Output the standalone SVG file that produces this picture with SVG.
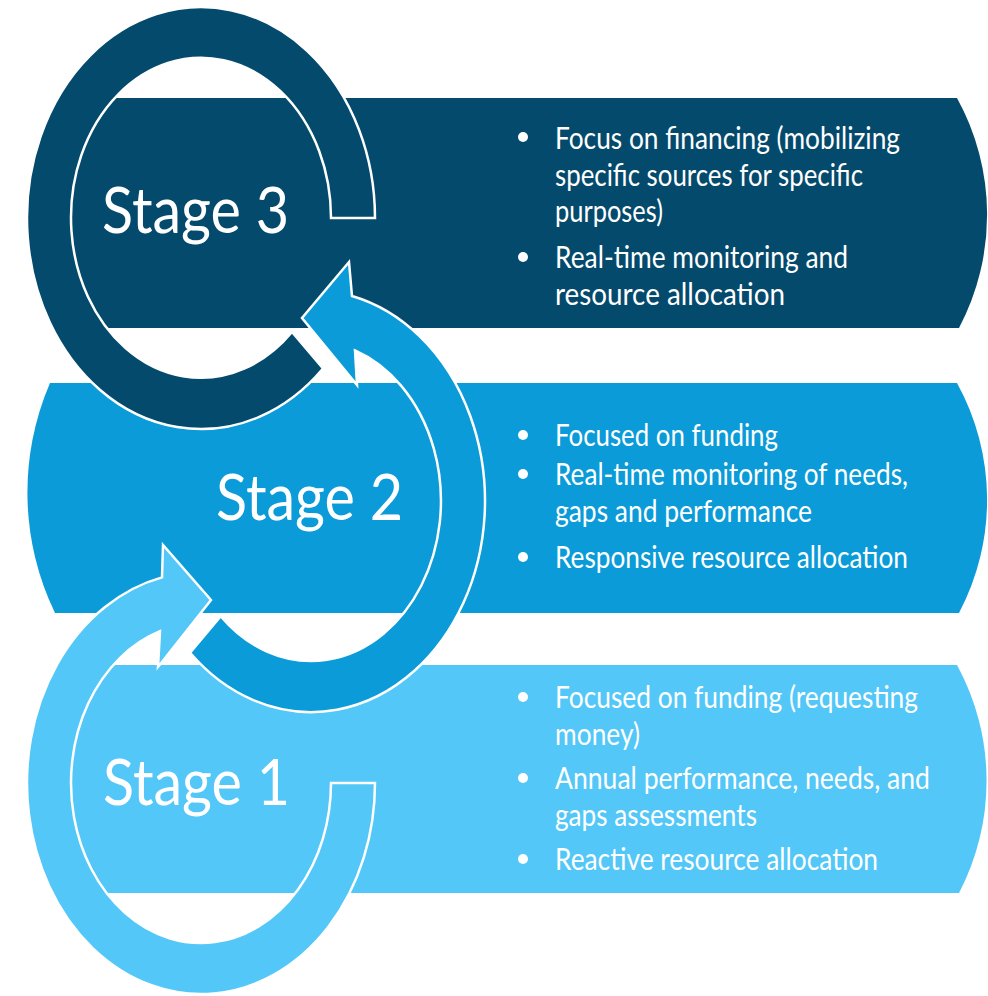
<svg xmlns="http://www.w3.org/2000/svg" width="988" height="996" viewBox="0 0 988 996">
<style>
.bg{fill:#ffffff}
.dark{fill:#044a6c}
.mid{fill:#0a9bd8}
.light{fill:#53c7f8}
.ring{stroke:#ffffff;stroke-width:2.5;stroke-linejoin:miter}
.stage{font-family:Lato,"Open Sans","Liberation Sans",sans-serif;font-size:63px;fill:#ffffff}
.txt{font-family:Lato,"Open Sans","Liberation Sans",sans-serif;font-size:30px;fill:#ffffff}
.dot{fill:#ffffff}
</style>
<rect class="bg" x="0" y="0" width="988" height="996"/>

<g id="stage3">
<path class="dark" d="M115,98 L957,98 A242,242 0 0 1 959,328 L107,328 Q0,213 115,98 Z"/>
<text class="stage" x="102" y="233" textLength="187" lengthAdjust="spacingAndGlyphs">Stage 3</text>
<circle class="dot" cx="523" cy="137" r="5"/>
<circle class="dot" cx="523" cy="257" r="5"/>
<text class="txt" x="555" y="149" textLength="345" lengthAdjust="spacingAndGlyphs">Focus on financing (mobilizing</text>
<text class="txt" x="555" y="186" textLength="308" lengthAdjust="spacingAndGlyphs">specific sources for specific</text>
<text class="txt" x="555" y="222" textLength="108" lengthAdjust="spacingAndGlyphs">purposes)</text>
<text class="txt" x="555" y="268" textLength="293" lengthAdjust="spacingAndGlyphs">Real-time monitoring and</text>
<text class="txt" x="555" y="305" textLength="230" lengthAdjust="spacingAndGlyphs">resource allocation</text>
</g>

<g id="stage2">
<path class="mid" d="M50,383 L957,383 A242,242 0 0 1 959,613 L55,613 A277,277 0 0 1 50,383 Z"/>
<text class="stage" x="216" y="520" textLength="187" lengthAdjust="spacingAndGlyphs">Stage 2</text>
<circle class="dot" cx="523" cy="435" r="5"/>
<circle class="dot" cx="523" cy="474" r="5"/>
<circle class="dot" cx="523" cy="557" r="5"/>
<text class="txt" x="555" y="446" textLength="223" lengthAdjust="spacingAndGlyphs">Focused on funding</text>
<text class="txt" x="555" y="485" textLength="353" lengthAdjust="spacingAndGlyphs">Real-time monitoring of needs,</text>
<text class="txt" x="555" y="522" textLength="257" lengthAdjust="spacingAndGlyphs">gaps and performance</text>
<text class="txt" x="555" y="568" textLength="353" lengthAdjust="spacingAndGlyphs">Responsive resource allocation</text>
</g>

<g id="stage1">
<path class="light" d="M113,665 L957,665 A242,242 0 0 1 959,893 L107,893 Q0,779 113,665 Z"/>
<text class="stage" x="103" y="805" textLength="187" lengthAdjust="spacingAndGlyphs">Stage 1</text>
<circle class="dot" cx="523" cy="697" r="5"/>
<circle class="dot" cx="523" cy="778" r="5"/>
<circle class="dot" cx="523" cy="859" r="5"/>
<text class="txt" x="555" y="708" textLength="363" lengthAdjust="spacingAndGlyphs">Focused on funding (requesting</text>
<text class="txt" x="555" y="745" textLength="85" lengthAdjust="spacingAndGlyphs">money)</text>
<text class="txt" x="555" y="789" textLength="375" lengthAdjust="spacingAndGlyphs">Annual performance, needs, and</text>
<text class="txt" x="555" y="826" textLength="202" lengthAdjust="spacingAndGlyphs">gaps assessments</text>
<text class="txt" x="555" y="870" textLength="323" lengthAdjust="spacingAndGlyphs">Reactive resource allocation</text>
</g>

<g id="connectors">
<path id="ring3" class="dark ring" d="M375,218 A174,211 0 1 0 323,368.5 L292,332 A130,160 0 1 1 331,218 Z"/>
<path id="ring2" class="mid ring" d="M190.1,652.8 A174,211 0 1 0 352,296 L349,262 L302,318 L357,385 L355,350.4 A130,160 0 1 1 220.7,616.1 Z"/>
<path id="ring1" class="light ring" d="M375,783 A174,211 0 1 1 162,577.4 L163,545 L211,600 L158,667 L160,631.2 A130,160 0 1 0 331,783 Z"/>
</g>
</svg>
